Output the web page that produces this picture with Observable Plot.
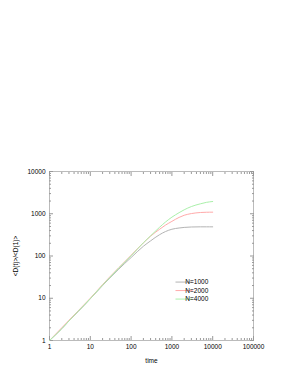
<!DOCTYPE html>
<html><head><meta charset="utf-8">
<script src="https://cdn.jsdelivr.net/npm/d3@7"></script>
<script src="https://cdn.jsdelivr.net/npm/@observablehq/plot@0.6"></script>
<style>body{margin:0;background:#fff;} svg{display:block;}</style>
</head><body><div id="chart"></div>
<script>
const times = [1,2,3,5,7,10,20,30,50,70,100,200,300,500,700,1000,1500,2000,3000,5000,7000,10000];
const n1000 = [1,1.9,2.9,4.8,6.7,9.7,20,30,49,67,92,170,228,320,380,430,460,475,486,490,490,490];
const n2000 = [1,2.0,3.0,5.0,7.0,10,21,32,53,73,104,205,295,430,540,660,820,920,1010,1070,1085,1090];
const n4000 = [1,1.9,2.9,4.9,6.8,9.8,20.5,31,52,72,101,205,300,480,640,830,1060,1240,1480,1720,1860,1950];
const seriesNames = ["N=1000","N=2000","N=4000"];
const seriesColors = ["#b4b4b4","#ffaaaa","#aaf0aa"];
const xTicks = [1,10,100,1000,10000,100000];
const yTicks = [1,10,100,1000,10000];

const values = [n1000,n2000,n4000];
const data = [];
seriesNames.forEach((s,i)=>times.forEach((t,j)=>data.push({series:s,t,v:values[i][j]})));
const minor = (ticks) => { const m=[]; for (let k=0;k<ticks.length-1;k++) for (let d=2;d<=9;d++) m.push(ticks[k]*d); return m; };
const xMinor = minor(xTicks), yMinor = minor(yTicks);
const legendData = seriesNames.map((s,i)=>({series:s, color:seriesColors[i], idx:i}));
const fmt = d3.format("d");
const tc = "#999";
const blank = () => "";

const plot = Plot.plot({
  width: 295, height: 382,
  marginLeft: 49, marginRight: 42, marginTop: 171, marginBottom: 42,
  style: {fontFamily: "Liberation Sans, Arial, sans-serif", fontSize: "6.5px", color: "#000", background: "#fff"},
  x: {type: "log", domain: [1,100000]},
  y: {type: "log", domain: [1,10000]},
  color: {domain: seriesNames, range: seriesColors},
  marks: [
    Plot.frame({stroke: "#bbb"}),
    Plot.axisX({ticks: xTicks, tickSize: 0, tickPadding: 4, tickFormat: fmt, label: "time", labelAnchor: "center", labelArrow: "none", labelOffset: 22, stroke: tc}),
    Plot.axisX({ticks: xTicks, tickSize: -4, tickFormat: blank, label: null, stroke: tc}),
    Plot.axisX({ticks: xMinor, tickSize: -2, tickFormat: blank, label: null, stroke: tc}),
    Plot.axisX({anchor: "top", ticks: xTicks, tickSize: -4, tickFormat: blank, label: null, stroke: tc}),
    Plot.axisX({anchor: "top", ticks: xMinor, tickSize: -2, tickFormat: blank, label: null, stroke: tc}),
    Plot.axisY({ticks: yTicks, tickSize: 0, tickPadding: 4, tickFormat: fmt, label: "<D(t)>/<D(1)>", labelAnchor: "center", labelArrow: "none", labelOffset: 36, stroke: tc}),
    Plot.axisY({ticks: yTicks, tickSize: -4, tickFormat: blank, label: null, stroke: tc}),
    Plot.axisY({ticks: yMinor, tickSize: -2, tickFormat: blank, label: null, stroke: tc}),
    Plot.axisY({anchor: "right", ticks: yTicks, tickSize: -4, tickFormat: blank, label: null, stroke: tc}),
    Plot.axisY({anchor: "right", ticks: yMinor, tickSize: -2, tickFormat: blank, label: null, stroke: tc}),
    Plot.line(data, {x: "t", y: "v", stroke: "series", strokeWidth: 1, curve: "monotone-x"}),
  ]
});
document.getElementById("chart").appendChild(plot);

// legend inside plot area, positioned via the plot's own scales
const sx = plot.scale("x"), sy = plot.scale("y");
const svg = d3.select(plot);
const lx0 = sx.apply(1260), lx1 = sx.apply(3300), ltx = sx.apply(4200);
const ly0 = sy.apply(23.5);
const g = svg.append("g");
legendData.forEach((d,i)=>{
  const y = ly0 + i*8.5;
  g.append("line").attr("x1",lx0).attr("x2",lx1).attr("y1",y).attr("y2",y).attr("stroke",d.color).attr("stroke-width",1);
  g.append("text").attr("x",ltx).attr("y",y).attr("dy","0.35em").attr("font-size","6.5px").attr("font-family","Liberation Sans, Arial, sans-serif").text(d.series);
});
</script></body></html>
